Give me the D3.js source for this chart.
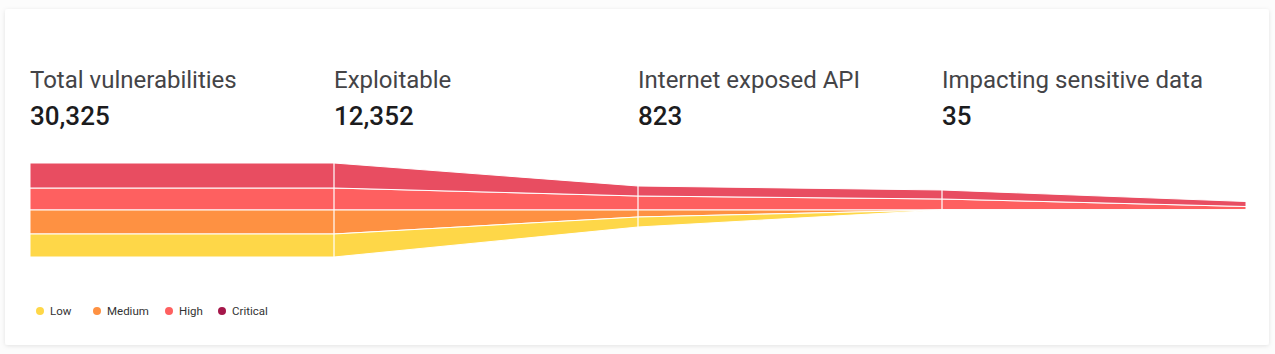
<!DOCTYPE html>
<html>
<head>
<meta charset="utf-8">
<script src="https://cdn.jsdelivr.net/npm/d3@7"></script>
<style>
  html, body { margin: 0; padding: 0; background: #fcfcfc; }
  svg { display: block; font-family: Roboto, "Noto Sans", sans-serif; }
</style>
</head>
<body>
<div id="chart"></div>
<script>
var stages = ['Total vulnerabilities', 'Exploitable', 'Internet exposed API', 'Impacting sensitive data'];
var totals = [30325, 12352, 823, 35];

// relative band thickness of each severity at each stage
var critical = [25, 10, 9, 5];
var high = [22, 14, 11, 3.5];
var medium = [24, 7, 0, 0];
var low = [23, 10, 0, 0];

var severities = ['Low', 'Medium', 'High', 'Critical'];
var bandColors = {Low: '#fed748', Medium: '#fe9142', High: '#fe6060', Critical: '#e84d61'};
var legendColors = {Low: '#fed748', Medium: '#fe9142', High: '#fe6060', Critical: '#a5174a'};

var width = 1275, height = 354;

var svg = d3.select('#chart').append('svg')
  .attr('width', width)
  .attr('height', height);

var defs = svg.append('defs');
var shadow = defs.append('filter').attr('id', 'shadow')
  .attr('x', '-5%').attr('y', '-5%').attr('width', '110%').attr('height', '110%');
shadow.append('feDropShadow')
  .attr('dx', 0).attr('dy', 1).attr('stdDeviation', 2)
  .attr('flood-color', '#000').attr('flood-opacity', 0.1);

svg.append('rect')
  .attr('x', 5).attr('y', 9)
  .attr('width', 1264).attr('height', 336)
  .attr('rx', 3)
  .attr('fill', '#fff')
  .attr('filter', 'url(#shadow)');

// one column per stage, the funnel runs one extra column to the right
var x = d3.scaleLinear().domain([0, 4]).range([30, 1246]);
var y = d3.scaleLinear().domain([-50, 50]).range([260, 160]);

// stage labels and totals
var heads = svg.append('g').selectAll('g')
  .data(stages)
  .join('g')
  .attr('transform', function(d, i){ return 'translate(' + x(i) + ',0)'; });

heads.append('text')
  .attr('y', 88)
  .attr('font-size', 24)
  .attr('fill', '#444447')
  .text(function(d){ return d; });

heads.append('text')
  .attr('y', 125)
  .attr('font-size', 26)
  .attr('font-weight', 500)
  .attr('fill', '#1c1c1e')
  .text(function(d, i){ return d3.format(',')(totals[i]); });

// points along the funnel: first stage held flat over its column
var rows = [];
for (var i = 0; i < stages.length; i++) {
  rows.push({pos: i + 1, Critical: critical[i], High: high[i], Medium: medium[i], Low: low[i]});
}
rows.unshift(Object.assign({}, rows[0], {pos: 0}));

// High and Critical stack upward, Medium and Low stack downward
var upper = d3.stack().keys(['High', 'Critical'])(rows);
var lower = d3.stack().keys(['Medium', 'Low'])(rows);

var areaUp = d3.area()
  .x(function(d){ return x(d.data.pos); })
  .y0(function(d){ return y(d[0]); })
  .y1(function(d){ return y(d[1]); });

var areaDown = d3.area()
  .x(function(d){ return x(d.data.pos); })
  .y0(function(d){ return y(-d[0]); })
  .y1(function(d){ return y(-d[1]); });

var bands = svg.append('g');

bands.selectAll('path.up')
  .data(upper)
  .join('path')
  .attr('class', 'up')
  .attr('d', areaUp)
  .attr('fill', function(d){ return bandColors[d.key]; })
  .attr('stroke', '#fff')
  .attr('stroke-width', 1);

bands.selectAll('path.down')
  .data(lower)
  .join('path')
  .attr('class', 'down')
  .attr('d', areaDown)
  .attr('fill', function(d){ return bandColors[d.key]; })
  .attr('stroke', '#fff')
  .attr('stroke-width', 1);

// white dividers at each stage boundary
var topLayer = upper[upper.length - 1];
var bottomLayer = lower[lower.length - 1];
bands.selectAll('line.divider')
  .data(d3.range(1, 4))
  .join('line')
  .attr('class', 'divider')
  .attr('x1', function(d){ return x(d); })
  .attr('x2', function(d){ return x(d); })
  .attr('y1', function(d){ return y(topLayer[d][1]); })
  .attr('y2', function(d){ return y(-bottomLayer[d][1]); })
  .attr('stroke', '#fff')
  .attr('stroke-width', 1.2);

// legend
var legendX = [40, 97, 169, 222];
var legend = svg.append('g').selectAll('g')
  .data(severities)
  .join('g')
  .attr('transform', function(d, i){ return 'translate(' + legendX[i] + ',311)'; });

legend.append('circle')
  .attr('r', 4)
  .attr('fill', function(d){ return legendColors[d]; });

legend.append('text')
  .attr('x', 10)
  .attr('dy', '0.35em')
  .attr('font-size', 11.5)
  .attr('fill', '#333')
  .text(function(d){ return d; });
</script>
</body>
</html>
